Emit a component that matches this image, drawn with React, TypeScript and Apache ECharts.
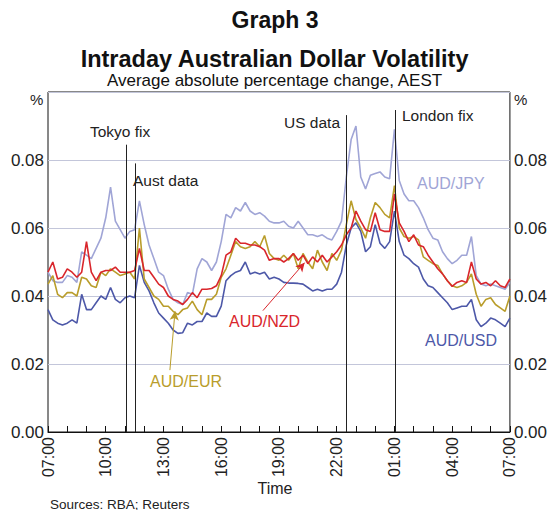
import React, { useEffect, useRef } from "react";
import * as echarts from "echarts";

// minutes after 07:00 AEST, every 15 minutes for 24 hours
const minutes: number[] = Array.from({ length: 97 }, (_, i) => i * 15);
const tickLabels: string[] = ["07:00", "10:00", "13:00", "16:00", "19:00", "22:00", "01:00", "04:00", "07:00"];

const audUsd: number[] = [
  0.036, 0.033, 0.032, 0.0315,
  0.032, 0.033, 0.032, 0.0405,
  0.036, 0.036, 0.038, 0.040,
  0.039, 0.0425, 0.039, 0.038,
  0.0395, 0.040, 0.0395, 0.049,
  0.044, 0.0415, 0.038, 0.035,
  0.0335, 0.032, 0.030, 0.029,
  0.0292, 0.032, 0.0315, 0.0325,
  0.0325, 0.035, 0.034, 0.034,
  0.037, 0.0445, 0.046, 0.047,
  0.0475, 0.050, 0.0465, 0.047,
  0.0465, 0.047, 0.045, 0.0455,
  0.045, 0.044, 0.0438, 0.0438,
  0.0437, 0.0435, 0.0425, 0.0415,
  0.042, 0.0415, 0.042, 0.042,
  0.0435, 0.047, 0.055, 0.060,
  0.0615, 0.059, 0.053, 0.0545,
  0.061, 0.0555, 0.054, 0.056,
  0.065, 0.056, 0.052, 0.051,
  0.0495, 0.0485, 0.045, 0.043,
  0.0425, 0.041, 0.0395, 0.038,
  0.036, 0.0365, 0.037, 0.037,
  0.039, 0.033, 0.031, 0.032,
  0.0335, 0.033, 0.032, 0.031,
  0.0335,
];

const audJpy: number[] = [
  0.047, 0.0445, 0.044, 0.044,
  0.046, 0.0455, 0.044, 0.053,
  0.052, 0.051, 0.054, 0.057,
  0.063, 0.072, 0.062, 0.0595,
  0.057, 0.059, 0.0595, 0.068,
  0.061, 0.055, 0.051, 0.047,
  0.046, 0.042, 0.039, 0.038,
  0.0375, 0.041, 0.0405, 0.048,
  0.051, 0.050, 0.0475, 0.050,
  0.056, 0.064, 0.063, 0.066,
  0.065, 0.0675, 0.065, 0.064,
  0.0645, 0.0635, 0.062, 0.0615,
  0.0615, 0.062, 0.0605, 0.060,
  0.062, 0.060, 0.058, 0.058,
  0.0575, 0.058, 0.057, 0.0565,
  0.059, 0.062, 0.075, 0.086,
  0.090, 0.075, 0.0715, 0.0755,
  0.076, 0.0765, 0.075, 0.0745,
  0.089, 0.074, 0.070, 0.068,
  0.068, 0.066, 0.063, 0.0595,
  0.057, 0.0565, 0.053, 0.051,
  0.0495, 0.0505, 0.052, 0.052,
  0.0575, 0.046, 0.0435, 0.043,
  0.0435, 0.043, 0.0425, 0.042,
  0.044,
];

const audNzd: number[] = [
  0.047, 0.050, 0.045, 0.0455,
  0.048, 0.047, 0.0455, 0.047,
  0.056, 0.047, 0.0445, 0.047,
  0.0475, 0.0475, 0.0485, 0.047,
  0.047, 0.047, 0.0475, 0.054,
  0.0475, 0.0475, 0.0455, 0.0435,
  0.0425, 0.040, 0.039, 0.0385,
  0.0375, 0.039, 0.041, 0.0395,
  0.042, 0.042, 0.0422, 0.043,
  0.046, 0.052, 0.053, 0.057,
  0.0555, 0.0555, 0.055, 0.055,
  0.0545, 0.0535, 0.0505, 0.051,
  0.051, 0.050, 0.051, 0.0525,
  0.0505, 0.052, 0.0495, 0.0515,
  0.050, 0.052, 0.050, 0.0515,
  0.053, 0.055, 0.058, 0.060,
  0.065, 0.062, 0.0595, 0.059,
  0.0645, 0.0595, 0.059, 0.059,
  0.070, 0.0615, 0.059, 0.056,
  0.058, 0.055, 0.0545, 0.052,
  0.050, 0.048, 0.0465, 0.0445,
  0.0428, 0.044, 0.0445, 0.044,
  0.050, 0.045, 0.0435, 0.044,
  0.043, 0.0445, 0.043, 0.0425,
  0.045,
];

const audEur: number[] = [
  0.0435, 0.046, 0.0405, 0.0395,
  0.041, 0.041, 0.040, 0.0455,
  0.045, 0.043, 0.0425, 0.047,
  0.046, 0.048, 0.047, 0.046,
  0.0465, 0.047, 0.045, 0.060,
  0.045, 0.0425, 0.040, 0.039,
  0.037, 0.037, 0.0355, 0.0345,
  0.036, 0.0365, 0.0385, 0.036,
  0.0345, 0.039, 0.039, 0.0405,
  0.0455, 0.048, 0.052, 0.056,
  0.0545, 0.054, 0.0545, 0.056,
  0.0545, 0.0578, 0.0525, 0.051,
  0.0505, 0.052, 0.0505, 0.0525,
  0.048, 0.0525, 0.050, 0.048,
  0.0535, 0.050, 0.0475, 0.0525,
  0.0505, 0.0535, 0.061, 0.068,
  0.0625, 0.060, 0.057, 0.063,
  0.0675, 0.066, 0.064, 0.063,
  0.0725, 0.060, 0.0575, 0.057,
  0.0575, 0.0565, 0.0515, 0.0505,
  0.0495, 0.049, 0.0465, 0.0445,
  0.043, 0.0425, 0.043, 0.044,
  0.0465, 0.0405, 0.037, 0.039,
  0.0395, 0.0375, 0.0365, 0.0355,
  0.040,
];

// event markers: [minutes after 07:00, top of line (value units)]
const events: { name: string; at: number; top: number }[] = [
  { name: "Tokyo fix", at: 243, top: 0.0845 },
  { name: "Aust data", at: 273, top: 0.079 },
  { name: "US data", at: 931, top: 0.0932 },
  { name: "London fix", at: 1081, top: 0.0947 },
];

const COLORS = {
  usd: "#4d58a8",
  jpy: "#a0a5d6",
  nzd: "#d9262c",
  eur: "#b99d2b",
};

const FONT = "'Liberation Sans', Arial, Helvetica, sans-serif";

function pairs(vals: number[]): [number, number][] {
  return minutes.map((m, i) => [m, vals[i]]);
}

export default function App() {
  const ref = useRef<HTMLDivElement>(null);
  useEffect(() => {
    if (!ref.current) return;
    document.body.style.margin = "0";
    const chart = echarts.init(ref.current, undefined, { renderer: "svg" });
    const lineSeries = (name: string, vals: number[], color: string) => ({
      name,
      type: "line",
      data: pairs(vals),
      showSymbol: false,
      symbol: "none",
      lineStyle: { color, width: 1.6 },
      itemStyle: { color },
      z: 3,
    });
    const yLabel = {
      fontSize: 17,
      color: "#222",
      fontFamily: FONT,
      margin: 4,
      formatter: (v: number) => (v > 0.099 ? "" : v.toFixed(2)),
    };
    const option: any = {
      animation: false,
      textStyle: { fontFamily: FONT },
      grid: {
        left: 48,
        right: 40,
        top: 92,
        bottom: 78,
        show: true,
        borderColor: "#111",
        borderWidth: 1,
        backgroundColor: "transparent",
      },
      xAxis: {
        type: "value",
        min: 0,
        max: 1440,
        interval: 60,
        axisLine: { show: true, lineStyle: { color: "#111", width: 1 } },
        axisTick: { show: true, inside: true, length: 6, lineStyle: { color: "#111" } },
        splitLine: { show: false },
        axisLabel: {
          rotate: 90,
          fontSize: 16,
          color: "#222",
          fontFamily: FONT,
          margin: 5,
          formatter: (v: number) => (v % 180 === 0 ? tickLabels[v / 180] : ""),
        },
      },
      yAxis: [
        {
          type: "value",
          min: 0,
          max: 0.1,
          interval: 0.02,
          axisLine: { show: false },
          axisTick: { show: false },
          splitLine: { show: true, lineStyle: { color: "#c3c6da", width: 1 } },
          axisLabel: yLabel,
        },
        {
          type: "value",
          position: "right",
          min: 0,
          max: 0.1,
          interval: 0.02,
          axisLine: { show: false },
          axisTick: { show: false },
          splitLine: { show: false },
          axisLabel: yLabel,
        },
      ],
      series: [
        {
          type: "line",
          data: [],
          silent: true,
          markLine: {
            silent: true,
            symbol: ["none", "none"],
            label: { show: false },
            lineStyle: { color: "#222", width: 1, type: "solid" },
            data: events.map((e) => [{ coord: [e.at, 0] }, { coord: [e.at, e.top] }]),
          },
          z: 2,
        },
        lineSeries("AUD/JPY", audJpy, COLORS.jpy),
        lineSeries("AUD/USD", audUsd, COLORS.usd),
        lineSeries("AUD/EUR", audEur, COLORS.eur),
        lineSeries("AUD/NZD", audNzd, COLORS.nzd),
        {
          type: "line",
          data: [],
          silent: true,
          markLine: {
            silent: true,
            symbol: ["none", "arrow"],
            symbolSize: [7, 9],
            label: { show: false },
            data: [
              [
                { coord: [670, 0.0357], lineStyle: { color: COLORS.nzd, width: 1, type: "solid" }, itemStyle: { color: COLORS.nzd } },
                { coord: [800, 0.0498], lineStyle: { color: COLORS.nzd, width: 1, type: "solid" }, itemStyle: { color: COLORS.nzd } },
              ],
              [
                { coord: [380, 0.0182], lineStyle: { color: COLORS.eur, width: 1, type: "solid" }, itemStyle: { color: COLORS.eur } },
                { coord: [396, 0.0355], lineStyle: { color: COLORS.eur, width: 1, type: "solid" }, itemStyle: { color: COLORS.eur } },
              ],
            ],
          },
          z: 4,
        },
      ],
      graphic: [
        { type: "text", left: "center", top: 8, style: { text: "Graph 3", font: `bold 23px ${FONT}`, fill: "#111" } },
        { type: "text", left: "center", top: 47, style: { text: "Intraday Australian Dollar Volatility", font: `bold 23.5px ${FONT}`, fill: "#111" } },
        { type: "text", left: "center", top: 72, style: { text: "Average absolute percentage change, AEST", font: `17px ${FONT}`, fill: "#111" } },
        { type: "text", x: 30, y: 92, style: { text: "%", font: `15px ${FONT}`, fill: "#222" } },
        { type: "text", x: 514, y: 92, style: { text: "%", font: `15px ${FONT}`, fill: "#222" } },
        { type: "text", x: 90, y: 123, style: { text: "Tokyo fix", font: `15.5px ${FONT}`, fill: "#222" } },
        { type: "text", x: 133, y: 172, style: { text: "Aust data", font: `15.5px ${FONT}`, fill: "#222" } },
        { type: "text", x: 284, y: 114, style: { text: "US data", font: `15.5px ${FONT}`, fill: "#222" } },
        { type: "text", x: 402, y: 107, style: { text: "London fix", font: `15.5px ${FONT}`, fill: "#222" } },
        { type: "text", x: 417, y: 175, style: { text: "AUD/JPY", font: `16px ${FONT}`, fill: COLORS.jpy } },
        { type: "text", x: 425, y: 332, style: { text: "AUD/USD", font: `16px ${FONT}`, fill: COLORS.usd } },
        { type: "text", x: 229, y: 313, style: { text: "AUD/NZD", font: `16px ${FONT}`, fill: COLORS.nzd } },
        { type: "text", x: 150, y: 373, style: { text: "AUD/EUR", font: `16px ${FONT}`, fill: COLORS.eur } },
        { type: "text", left: "center", top: 480, style: { text: "Time", font: `16px ${FONT}`, fill: "#222" } },
        { type: "text", x: 50, y: 497, style: { text: "Sources: RBA; Reuters", font: `13.5px ${FONT}`, fill: "#222" } },
      ],
    };
    chart.setOption(option);
    return () => chart.dispose();
  }, []);
  return <div ref={ref} style={{ width: 550, height: 510, position: "absolute", left: 0, top: 0 }} />;
}
